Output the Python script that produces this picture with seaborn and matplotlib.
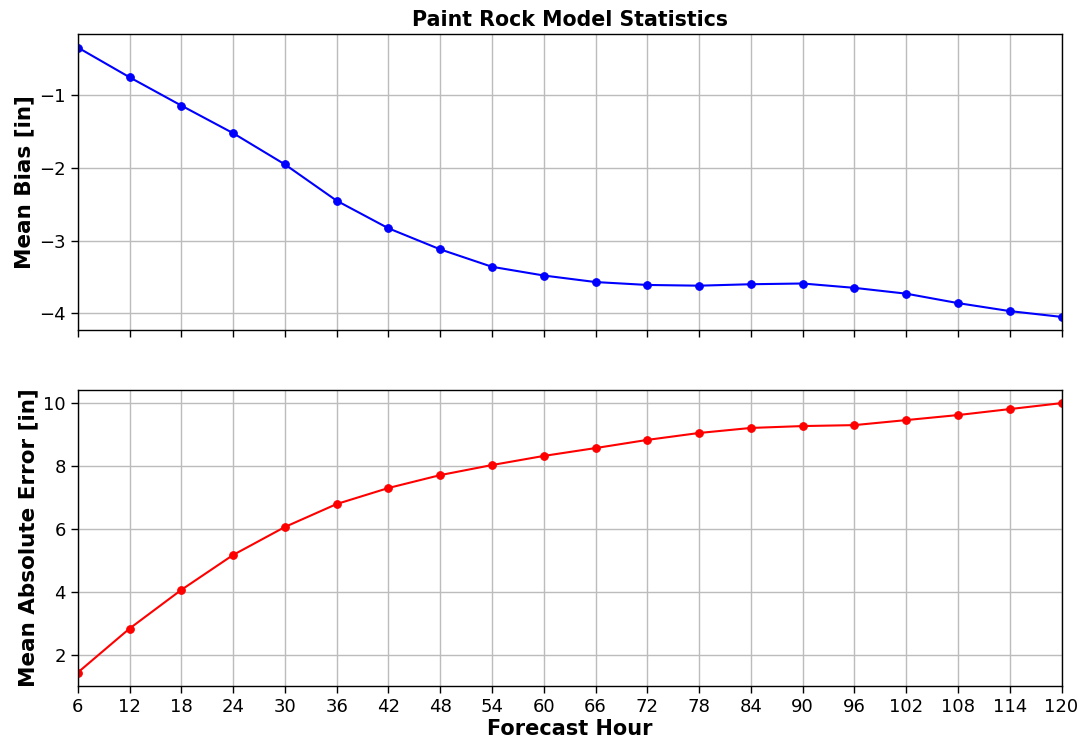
import matplotlib
matplotlib.use("Agg")
import matplotlib.pyplot as plt
import seaborn as sns
from pandas import DataFrame

# forecast hours and stats
hours = [6, 12, 18, 24, 30, 36, 42, 48, 54, 60, 66, 72, 78, 84, 90, 96, 102, 108, 114, 120]
mean_bias = [-0.34, -0.75, -1.14, -1.52, -1.95, -2.45, -2.83, -3.12, -3.36, -3.48,
             -3.57, -3.61, -3.62, -3.60, -3.59, -3.65, -3.73, -3.86, -3.97, -4.05]
mean_abs_err = [1.43, 2.83, 4.06, 5.17, 6.06, 6.79, 7.30, 7.71, 8.03, 8.32,
                8.57, 8.83, 9.05, 9.21, 9.27, 9.30, 9.46, 9.62, 9.81, 10.0]

df = DataFrame({"hour": hours, "bias": mean_bias, "mae": mean_abs_err})

sns.set_style("ticks")
plt.rcParams['font.family'] = ['DejaVu Sans']
plt.rcParams['text.color'] = 'black'
plt.rcParams['axes.labelcolor'] = 'black'
plt.rcParams['xtick.color'] = 'black'
plt.rcParams['ytick.color'] = 'black'
plt.rcParams['axes.edgecolor'] = 'black'

fig, (ax1, ax2) = plt.subplots(2, 1, figsize=(10.81, 7.4), dpi=100, sharex=True)
fig.subplots_adjust(left=0.072, right=0.982, top=0.954, bottom=0.073, hspace=0.2)

sns.lineplot(data=df, x="hour", y="bias", color="blue", marker="o", markersize=5.5,
             markeredgecolor="blue", linewidth=1.5, ax=ax1)
sns.lineplot(data=df, x="hour", y="mae", color="red", marker="o", markersize=5.5,
             markeredgecolor="red", linewidth=1.5, ax=ax2)

for ax in (ax1, ax2):
    ax.grid(True, color="#bcbcbc", linewidth=1.0)
    ax.set_axisbelow(True)
    ax.tick_params(labelsize=13, length=5, width=1)
    ax.set_xlim(6, 120)
    for s in ax.spines.values():
        s.set_visible(True)
        s.set_linewidth(1.0)

ax2.set_xticks(hours)
ax1.set_xlabel("")
ax1.set_ylabel("Mean Bias [in]", fontsize=15.5, fontweight="bold")
ax2.set_ylabel("Mean Absolute Error [in]", fontsize=15.5, fontweight="bold")
ax2.set_xlabel("Forecast Hour", fontsize=15, fontweight="bold", labelpad=2)
ax1.set_title("Paint Rock Model Statistics", fontsize=14.8, fontweight="bold")
ax1.set_yticks([-1, -2, -3, -4])
ax2.set_yticks([2, 4, 6, 8, 10])

fig.savefig("out.png", dpi=100)
